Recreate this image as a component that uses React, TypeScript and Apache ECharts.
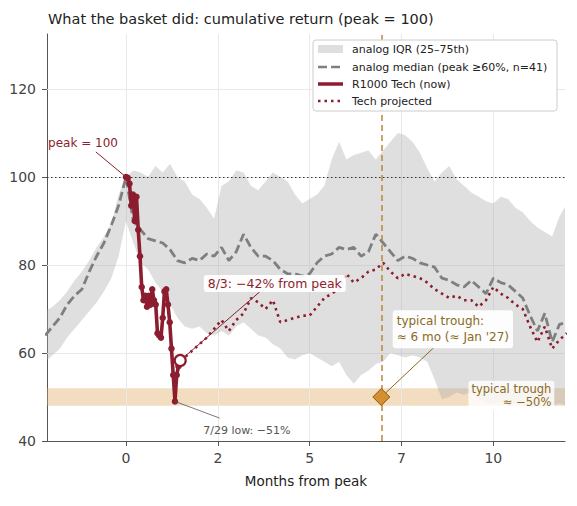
import { useEffect, useRef } from 'react';
import * as echarts from 'echarts';

// ---------------- data ----------------
const TITLE = 'What the basket did: cumulative return (peak = 100)';
const X_LABEL = 'Months from peak';
const xTickValues = [0, 2.5, 5, 7.5, 10];
const yTickValues = [40, 60, 80, 100, 120];

const PEAK_LEVEL = 100;
const TROUGH_MONTHS = 6.95;
const TROUGH_LEVEL = 50;
const TROUGH_BAND = [48, 52];

const bandMonths = [
  -2.2, -2.0, -1.8, -1.6, -1.4, -1.2, -1.0, -0.8, -0.6, -0.4, -0.2, 0,
  0.2, 0.4, 0.6, 0.8, 1.0, 1.2, 1.4, 1.6, 1.8, 2.0,
  2.2, 2.4, 2.6, 2.8, 3.0, 3.2, 3.4, 3.6, 3.8, 4.0,
  4.2, 4.4, 4.6, 4.8, 5.0, 5.2, 5.4, 5.6, 5.8, 6.0,
  6.2, 6.4, 6.6, 6.8, 7.0, 7.2, 7.4, 7.6, 7.8, 8.0,
  8.2, 8.4, 8.6, 8.8, 9.0, 9.2, 9.4, 9.6, 9.8, 10.0,
  10.2, 10.4, 10.6, 10.8, 11.0, 11.2, 11.4, 11.6, 11.8, 12.0,
];
const iqrHigh = [
  69.5, 70.5, 72, 74, 76.5, 78.5, 81, 84, 86.5, 89.5, 96, 100,
  101.5, 101, 100, 102.5, 101, 103, 100, 99, 96, 95,
  93, 90.5, 98, 99, 101.5, 101, 98, 97, 99, 101,
  100, 99, 96, 94, 95, 96, 98, 104, 108, 104,
  105, 105.5, 106, 104, 106, 108, 110, 109.5, 108, 105.5,
  102, 99, 101, 102.5, 99.5, 98, 96.5, 95.5, 94.5, 94,
  95.5, 95, 93, 92, 90, 88.5, 87.5, 86.5, 91, 94,
];
const iqrLow = [
  58, 59.5, 61, 63.5, 65.5, 67.5, 69.5, 71.5, 74, 77, 82, 90,
  85, 80.5, 79, 76, 74, 71, 68, 66, 65.5, 66,
  64.5, 64, 65, 64, 66, 67, 65.5, 64, 63.5, 62,
  61, 59, 58.5, 59.5, 60, 59, 58, 57, 58, 55,
  53, 55, 56, 57.5, 58, 60, 59.5, 59, 59.5, 59,
  58, 54, 49.5, 50, 51, 50.5, 51, 49.5, 49, 48.5,
  49, 48, 48.5, 48, 47.5, 48, 47.5, 48, 48.5, 48,
];
const analogMedian = [
  64, 66, 68, 71, 73, 74.5, 78.5, 82, 85, 89, 93.5, 100,
  90, 88, 86, 85.5, 85, 83.5, 81, 80.5, 81.5, 81,
  82.5, 82, 84, 81, 83, 87, 84, 82, 82, 81,
  79, 78, 78, 77.5, 78, 80.5, 82, 82.5, 84, 83.5,
  84, 82, 83, 87, 85, 83, 81, 82, 81.5, 80.5,
  80, 79.5, 77, 76.5, 75.5, 75, 76.5, 75, 73.5, 77,
  76, 75.5, 74, 72.5, 68.5, 65, 69, 62.5, 66.5, 67,
];

// R1000 Tech, one value per trading day since the peak
const TRADING_DAYS_PER_MONTH = 21;
const techNow = [
  100, 99.8, 98.5, 93.5, 96, 90, 95.5, 88, 82, 75, 72, 73, 70.5, 73, 71, 74.5,
  72, 71, 64.5, 64, 63.5, 68, 74, 74.5, 71, 67, 61, 55, 49, 55, 57, 58.3,
];
const techMonths = techNow.map((_, i) => i / TRADING_DAYS_PER_MONTH);

const projectedMonths = [
  1.48, 1.6, 1.8, 2.0, 2.2, 2.4, 2.6, 2.8, 3.0, 3.2, 3.4,
  3.6, 3.8, 4.0, 4.2, 4.4, 4.6, 4.8, 5.0, 5.2, 5.4,
  5.6, 5.8, 6.0, 6.2, 6.4, 6.6, 6.8, 7.0, 7.2, 7.4,
  7.6, 7.8, 8.0, 8.2, 8.4, 8.6, 8.8, 9.0, 9.2, 9.4,
  9.6, 9.8, 10.0, 10.2, 10.4, 10.6, 10.8, 11.0, 11.2, 11.4, 11.6, 11.8, 12.0,
];
const techProjected = [
  58.3, 59, 60.5, 62, 63.5, 65.5, 67.5, 65, 67.5, 69, 72.5,
  71.5, 70, 72, 67, 67.5, 68, 68.5, 68.5, 70.5, 72.5,
  73.5, 74.5, 78, 76, 77, 78.5, 79, 80.5, 78.5, 77,
  78, 77.5, 77, 76, 74.5, 73.5, 72.5, 73, 72, 72,
  70.5, 72, 75, 73.5, 72.5, 71, 70, 66, 62.5, 66, 61, 63, 64.5,
];

const LEGEND_LABELS = [
  'analog IQR (25–75th)',
  'analog median (peak ≥60%, n=41)',
  'R1000 Tech (now)',
  'Tech projected',
];

// ---------------- styles ----------------
const FONT = '"DejaVu Sans", Verdana, sans-serif';
const C_RED = '#8c1d2f';
const C_GOLD = '#8a6a1c';
const C_VLINE = '#b9863f';
const C_MEDIAN = '#7f7f7f';
const C_BAND = 'rgba(170,170,170,0.38)';
const C_GRID = '#e9e9e9';
const C_AXIS = '#555';

const zip = (xs: number[], ys: number[]) => xs.map((x, i) => [x, ys[i]]);
const lastTech: [number, number] = [techMonths[techMonths.length - 1], techNow[techNow.length - 1]];
const lowIdx = techNow.indexOf(Math.min(...techNow));
const lowPoint = [techMonths[lowIdx], techNow[lowIdx]];

function buildOption(): any {
  const legendRowY = [9, 27, 44, 61];
  const LZ = 100;
  return {
    animation: false,
    backgroundColor: '#ffffff',
    textStyle: { fontFamily: FONT },
    title: {
      text: TITLE,
      left: 43,
      top: 6,
      textStyle: { fontSize: 14.5, fontWeight: 'normal', color: '#222', fontFamily: FONT },
    },
    grid: { left: 47, right: 12, top: 34, bottom: 65 },
    xAxis: {
      type: 'value',
      min: -2.15,
      max: 11.95,
      name: X_LABEL,
      nameLocation: 'middle',
      nameGap: 33,
      nameTextStyle: { fontSize: 13.5, color: '#222', fontFamily: FONT },
      axisLine: { onZero: false, lineStyle: { color: C_AXIS, width: 1 } },
      axisTick: { customValues: xTickValues, length: 5, lineStyle: { color: C_AXIS } },
      axisLabel: {
        customValues: xTickValues,
        formatter: (v: number) => String(Math.trunc(v)),
        fontSize: 14,
        color: '#444',
        margin: 10,
        fontFamily: FONT,
      },
      splitLine: { show: false },
    },
    yAxis: {
      type: 'value',
      min: 40,
      max: 132.5,
      axisLine: { show: true, onZero: false, lineStyle: { color: C_AXIS, width: 1 } },
      axisTick: { show: true, customValues: yTickValues, length: 5, lineStyle: { color: C_AXIS } },
      axisLabel: { customValues: yTickValues, fontSize: 14, color: '#444', margin: 11, fontFamily: FONT },
      splitLine: { show: false },
    },
    graphic: [
      {
        type: 'group',
        x: 313,
        y: 40,
        z: LZ,
        children: [
          {
            type: 'rect',
            z: LZ,
            shape: { x: 0, y: 0, width: 244, height: 71, r: 3 },
            style: { fill: 'rgba(255,255,255,0.93)', stroke: '#cccccc', lineWidth: 1 },
          },
          {
            type: 'rect',
            z: LZ + 1,
            shape: { x: 5, y: legendRowY[0] - 4, width: 25, height: 8 },
            style: { fill: '#dedede' },
          },
          {
            type: 'line',
            z: LZ + 1,
            shape: { x1: 5, y1: legendRowY[1], x2: 30, y2: legendRowY[1] },
            style: { stroke: C_MEDIAN, lineWidth: 2.5, lineDash: [9, 4] },
          },
          {
            type: 'line',
            z: LZ + 1,
            shape: { x1: 5, y1: legendRowY[2], x2: 30, y2: legendRowY[2] },
            style: { stroke: C_RED, lineWidth: 3.5 },
          },
          {
            type: 'line',
            z: LZ + 1,
            shape: { x1: 5, y1: legendRowY[3], x2: 30, y2: legendRowY[3] },
            style: { stroke: C_RED, lineWidth: 2.5, lineDash: [2.5, 4] },
          },
          ...LEGEND_LABELS.map((t, i) => ({
            type: 'text',
            z: LZ + 1,
            x: 39,
            y: legendRowY[i],
            style: {
              text: t,
              fill: '#222',
              fontSize: 11,
              fontFamily: FONT,
              verticalAlign: 'middle',
              align: 'left',
            },
          })),
        ],
      },
    ],
    series: [
      // IQR band
      {
        type: 'custom',
        name: LEGEND_LABELS[0],
        z: 2,
        silent: true,
        clip: true,
        data: bandMonths.map((m, i) => [m, iqrLow[i], iqrHigh[i]]),
        encode: { x: 0, y: [1, 2] },
        renderItem: (params: any, api: any) => {
          if (params.dataIndex !== 0) return null;
          const pts: number[][] = [];
          for (let i = 0; i < bandMonths.length; i++) pts.push(api.coord([bandMonths[i], iqrHigh[i]]));
          for (let i = bandMonths.length - 1; i >= 0; i--) pts.push(api.coord([bandMonths[i], iqrLow[i]]));
          return { type: 'polygon', shape: { points: pts }, style: { fill: C_BAND } };
        },
      },
      // analog median (+ grid lines and trough band)
      {
        type: 'line',
        name: LEGEND_LABELS[1],
        z: 3,
        silent: true,
        symbol: 'none',
        data: zip(bandMonths, analogMedian),
        lineStyle: { color: C_MEDIAN, width: 2.8, type: [9, 4] },
        markLine: {
          z: 1,
          silent: true,
          symbol: ['none', 'none'],
          label: { show: false },
          lineStyle: { color: C_GRID, width: 1, type: 'solid' },
          data: [
            ...xTickValues.map((v) => ({ xAxis: v })),
            ...yTickValues.filter((v) => v > 40).map((v) => ({ yAxis: v })),
          ],
        },
        markArea: {
          z: 1,
          silent: true,
          itemStyle: { color: 'rgba(226,170,100,0.4)' },
          data: [[{ yAxis: TROUGH_BAND[0] }, { yAxis: TROUGH_BAND[1] }]],
        },
      },
      // projected
      {
        type: 'line',
        name: LEGEND_LABELS[3],
        z: 4,
        silent: true,
        symbol: 'none',
        data: zip(projectedMonths, techProjected),
        lineStyle: { color: C_RED, width: 2.6, type: [2.5, 4] },
      },
      // R1000 Tech now
      {
        type: 'line',
        name: LEGEND_LABELS[2],
        z: 5,
        silent: true,
        symbol: 'circle',
        symbolSize: 6.5,
        showSymbol: true,
        data: zip(techMonths, techNow),
        lineStyle: { color: C_RED, width: 3.6 },
        itemStyle: { color: C_RED, opacity: 1 },
      },
      // 8/3 open marker
      {
        type: 'scatter',
        z: 7,
        silent: true,
        symbol: 'circle',
        symbolSize: 11,
        data: [lastTech],
        itemStyle: { color: '#ffffff', borderColor: C_RED, borderWidth: 2.2, opacity: 1 },
      },
      // typical trough diamond + reference lines
      {
        type: 'scatter',
        z: 6,
        silent: true,
        symbol: 'diamond',
        symbolSize: 17,
        data: [[TROUGH_MONTHS, TROUGH_LEVEL]],
        itemStyle: { color: '#d4902f', borderColor: '#8a5a17', borderWidth: 1, opacity: 1 },
        markLine: {
          z: 4,
          silent: true,
          symbol: ['none', 'none'],
          label: { show: false },
          data: [
            { yAxis: PEAK_LEVEL, lineStyle: { color: '#333', width: 1, type: [1.5, 2.5] } },
            { xAxis: TROUGH_MONTHS, lineStyle: { color: C_VLINE, width: 1.5, type: [6, 4] } },
          ],
        },
      },
      // annotations
      {
        type: 'scatter',
        z: 8,
        silent: true,
        symbolSize: 1,
        itemStyle: { color: 'rgba(0,0,0,0)', opacity: 1 },
        data: [
          {
            value: [-1.17, 107.7],
            label: { show: true, position: 'inside', formatter: 'peak = 100', color: C_RED, fontSize: 12, fontFamily: FONT },
          },
          {
            value: [4.05, 75.8],
            label: {
              show: true,
              position: 'inside',
              formatter: '8/3: −42% from peak',
              color: C_RED,
              fontSize: 12.5,
              fontFamily: FONT,
              backgroundColor: 'rgba(255,255,255,0.92)',
              padding: [2, 4],
              borderRadius: 3,
            },
          },
          {
            value: [3.29, 42.3],
            label: { show: true, position: 'inside', formatter: '7/29 low: −51%', color: '#555', fontSize: 11, fontFamily: FONT },
          },
          {
            value: [7.26, 65.4],
            label: {
              show: true,
              position: 'inside',
              align: 'left',
              verticalAlign: 'middle',
              formatter: "typical trough:\n≈ 6 mo (≈ Jan '27)",
              color: C_GOLD,
              fontSize: 12,
              lineHeight: 16,
              fontFamily: FONT,
              backgroundColor: 'rgba(255,255,255,0.92)',
              padding: [3, 4],
              borderRadius: 3,
            },
          },
          {
            value: [11.66, 50.3],
            label: {
              show: true,
              position: 'inside',
              align: 'right',
              verticalAlign: 'middle',
              formatter: 'typical trough\n≈ −50%',
              color: C_GOLD,
              fontSize: 11.5,
              lineHeight: 13,
              fontFamily: FONT,
              backgroundColor: 'rgba(255,255,255,0.8)',
              padding: [2, 3],
              borderRadius: 3,
            },
          },
        ],
        markLine: {
          z: 6,
          silent: true,
          symbol: ['none', 'none'],
          label: { show: false },
          data: [
            [{ coord: [-0.82, 105.7], lineStyle: { color: C_RED, width: 1, type: 'solid' } }, { coord: [0, PEAK_LEVEL] }],
            [{ coord: lastTech, lineStyle: { color: C_RED, width: 1, type: 'solid' } }, { coord: [3.64, 73.9] }],
            [{ coord: lowPoint, lineStyle: { color: '#555', width: 0.8, type: 'solid' } }, { coord: [2.55, 45.2] }],
            [{ coord: [TROUGH_MONTHS, TROUGH_LEVEL], lineStyle: { color: C_GOLD, width: 1, type: 'solid' } }, { coord: [8.4, 61.4] }],
          ],
        },
      },
    ],
  };
}

export default function App() {
  const ref = useRef<HTMLDivElement>(null);
  useEffect(() => {
    if (!ref.current) return;
    const chart = echarts.init(ref.current, null, { renderer: 'svg' });
    chart.setOption(buildOption());
    return () => chart.dispose();
  }, []);
  return (
    <div
      ref={ref}
      style={{ position: 'absolute', left: 0, top: 0, width: 577, height: 506, background: '#fff' }}
    />
  );
}
